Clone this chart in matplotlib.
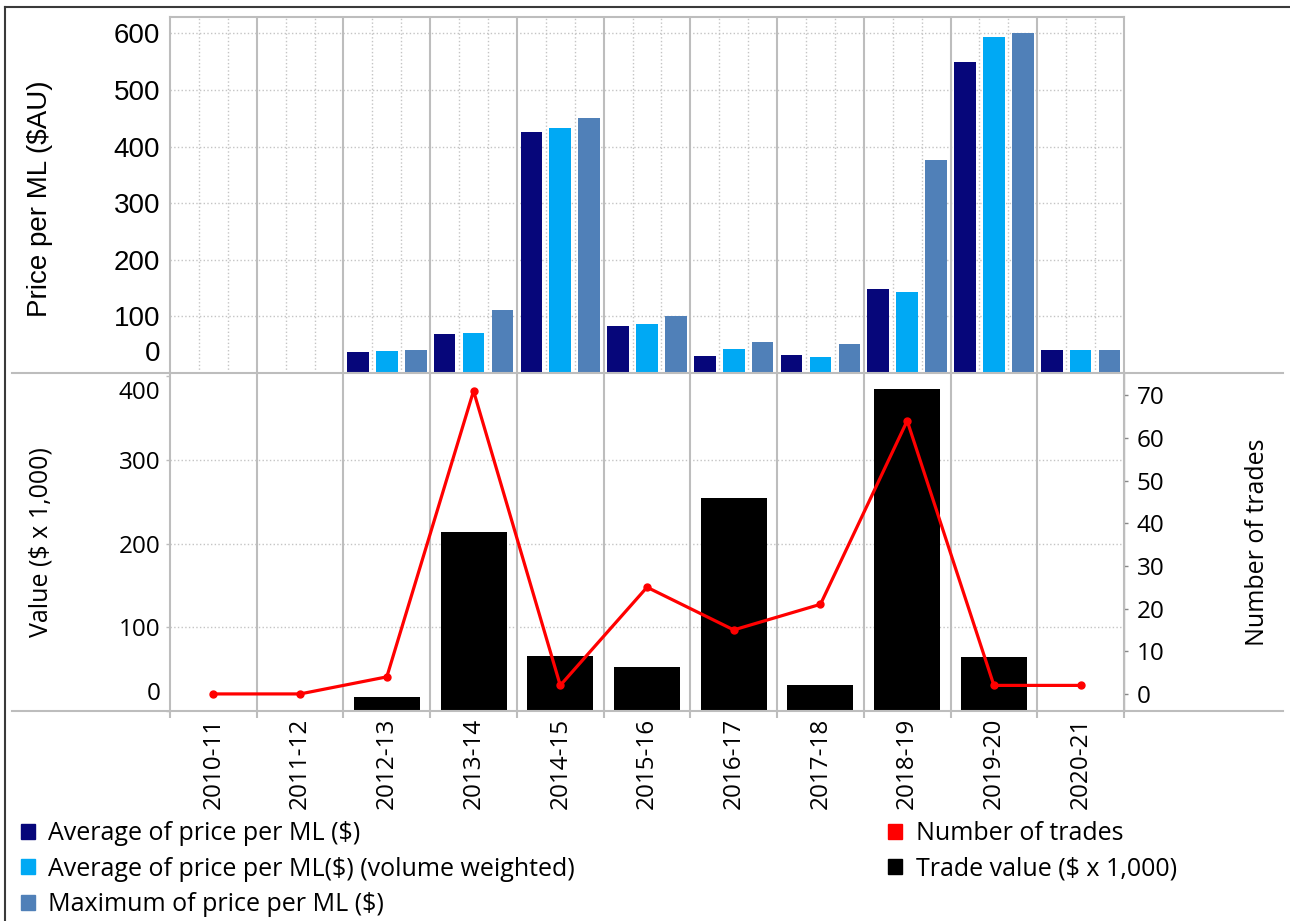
import matplotlib
matplotlib.use("Agg")
import matplotlib.pyplot as plt
from matplotlib.lines import Line2D
from matplotlib.patches import Patch
import numpy as np

# ---------------- data ----------------
years = ["2010-11", "2011-12", "2012-13", "2013-14", "2014-15", "2015-16",
         "2016-17", "2017-18", "2018-19", "2019-20", "2020-21"]
avg_price = [0, 0, 37, 69, 425, 83, 30, 31, 148, 550, 40]
avg_price_vw = [0, 0, 39, 71, 432, 87, 42, 29, 143, 593, 40]
max_price = [0, 0, 41, 111, 451, 100, 55, 52, 376, 600, 40]
trade_value = [0, 0, 17, 214, 66, 53, 255, 31, 385, 64, 0]
num_trades = [0, 0, 4, 71, 2, 25, 15, 21, 64, 2, 2]

top_ticks = [100, 200, 300, 400, 500, 600]
left_ticks = [0, 100, 200, 300, 400]
right_ticks = [0, 10, 20, 30, 40, 50, 60, 70]

C_DARK = "#06067a"
C_LIGHT = "#00a9f4"
C_STEEL = "#5080b8"
C_RED = "#ff0000"
C_GRID = "#c4c4c4"
C_SEP = "#bdbdbd"

ARIAL = ["Liberation Sans", "DejaVu Sans"]
SEGOE = ["Open Sans", "DejaVu Sans"]
FS_TOP = 20
FS_TICK = 17.5
FS_LAB = 18
FS_LEG = 18

W, H = 1290, 921
fig = plt.figure(figsize=(W / 100, H / 100), dpi=100)


def fx(px):
    return px / W


def fy(py):
    return 1 - py / H


L, R = 170, 1124
T1, B1 = 17, 373
T2, B2 = 373, 711

ax_top = fig.add_axes([fx(L), fy(B1), fx(R) - fx(L), fy(T1) - fy(B1)])
ax_bot = fig.add_axes([fx(L), fy(B2), fx(R) - fx(L), fy(T2) - fy(B2)])
ax_r = ax_bot.twinx()

x = np.arange(len(years))

# ---------------- top panel ----------------
bw = 0.25
ax_top.bar(x - 1 / 3, avg_price, bw, color=C_DARK, zorder=3)
ax_top.bar(x, avg_price_vw, bw, color=C_LIGHT, zorder=3)
ax_top.bar(x + 1 / 3, max_price, bw, color=C_STEEL, zorder=3)
ax_top.set_xlim(-0.5, len(years) - 0.5)
ax_top.set_ylim(0, 629)
ax_top.set_xticks([])
ax_top.set_yticks(top_ticks)
ax_top.set_yticklabels([str(v) for v in top_ticks], fontfamily=ARIAL, fontsize=FS_TOP)
ax_top.tick_params(axis="y", length=0, pad=7)
for v in top_ticks:
    ax_top.axhline(v, color=C_GRID, lw=1, ls=":", zorder=1)
for i in range(len(years)):
    ax_top.axvline(i - 1 / 6, color=C_GRID, lw=1, ls=":", zorder=1)
    ax_top.axvline(i + 1 / 6, color=C_GRID, lw=1, ls=":", zorder=1)
for i in range(len(years) - 1):
    ax_top.axvline(i + 0.5, color=C_SEP, lw=1.5, zorder=2)
for s in ["top", "left", "right"]:
    ax_top.spines[s].set_color(C_SEP)
    ax_top.spines[s].set_linewidth(1.5)
ax_top.spines["bottom"].set_visible(False)
ax_top.annotate("0", xy=(0, 0), xycoords=("axes fraction", "data"),
                xytext=(-7, 14), textcoords="offset points",
                ha="right", va="center", fontfamily=ARIAL, fontsize=FS_TOP)
ax_top.set_ylabel("Price per ML ($AU)", fontfamily=ARIAL, fontsize=FS_TOP)
ax_top.yaxis.label.set_va("center")
ax_top.yaxis.set_label_coords((40 - L) / (R - L), 0.49)

# ---------------- bottom panel ----------------
ax_bot.bar(x, trade_value, 0.76, color="black", zorder=3)
ax_bot.set_xlim(-0.5, len(years) - 0.5)
ax_bot.set_ylim(0, 404)
ax_bot.set_yticks(left_ticks)
ax_bot.set_yticklabels(["", "100", "200", "300", ""], fontfamily=SEGOE, fontsize=FS_TICK)
ax_bot.tick_params(axis="y", length=3, width=1, color=C_SEP, pad=4)
ax_bot.annotate("0", xy=(0, 0), xycoords=("axes fraction", "data"),
                xytext=(-7, 12), textcoords="offset points",
                ha="right", va="center", fontfamily=SEGOE, fontsize=FS_TICK)
ax_bot.annotate("400", xy=(0, 400), xycoords=("axes fraction", "data"),
                xytext=(-7, -12), textcoords="offset points",
                ha="right", va="center", fontfamily=SEGOE, fontsize=FS_TICK)
for v in [100, 200, 300]:
    ax_bot.axhline(v, color=C_GRID, lw=1, ls=":", zorder=1)
for i in range(len(years) - 1):
    ax_bot.axvline(i + 0.5, color=C_SEP, lw=1.5, zorder=2)
ax_bot.set_xticks(x)
ax_bot.set_xticklabels(years, rotation=90, fontfamily=SEGOE, fontsize=FS_TICK)
ax_bot.tick_params(axis="x", which="major", length=0, pad=5)
ax_bot.set_xticks(np.arange(-0.5, len(years), 1.0), minor=True)
ax_bot.tick_params(axis="x", which="minor", length=5, width=1.5, color=C_SEP)
for s in ["top", "bottom"]:
    ax_bot.spines[s].set_visible(False)
ax_bot.spines["left"].set_color(C_SEP)
ax_bot.spines["left"].set_linewidth(1.5)
ax_bot.set_ylabel("Value ($ x 1,000)", fontfamily=SEGOE, fontsize=FS_LAB)
ax_bot.yaxis.label.set_va("center")
ax_bot.yaxis.set_label_coords((41 - L) / (R - L), 0.5)

ax_r.plot(x, num_trades, color=C_RED, lw=2.3, marker="o", ms=5, zorder=5)
ax_r.set_ylim(-4, 75.2)
ax_r.set_yticks(right_ticks)
ax_r.set_yticklabels([str(v) for v in right_ticks], fontfamily=SEGOE, fontsize=FS_TICK)
ax_r.tick_params(axis="y", length=3, width=1, color="#888888", pad=6)
for s in ["top", "bottom", "left"]:
    ax_r.spines[s].set_visible(False)
ax_r.spines["right"].set_color(C_SEP)
ax_r.spines["right"].set_linewidth(1.5)
ax_r.set_ylabel("Number of trades", fontfamily=SEGOE, fontsize=FS_LAB)
ax_r.yaxis.label.set_va("center")
ax_r.yaxis.set_label_coords((1258 - L) / (R - L), 0.5)

# ---------------- separators & border ----------------
for yy in (B1, B2):
    fig.add_artist(Line2D([fx(12), fx(1283)], [fy(yy), fy(yy)], color=C_SEP, lw=1.5))
fig.add_artist(Line2D([fx(5), fx(1290)], [fy(7), fy(7)], color="#3a3a3a", lw=1.5))
fig.add_artist(Line2D([fx(5), fx(5)], [fy(7), fy(921)], color="#3a3a3a", lw=1.5))

# ---------------- legends ----------------
leg_kw = dict(loc="upper left", frameon=False, borderpad=0, borderaxespad=0,
              handlelength=0.55, handleheight=0.55, handletextpad=0.55,
              labelspacing=0.42, prop={"family": SEGOE, "size": FS_LEG})
h_left = [Patch(color=C_DARK), Patch(color=C_LIGHT), Patch(color=C_STEEL)]
l_left = ["Average of price per ML ($)",
          "Average of price per ML($) (volume weighted)",
          "Maximum of price per ML ($)"]
fig.legend(h_left, l_left, bbox_to_anchor=(fx(21), fy(821)), **leg_kw)
h_right = [Patch(color=C_RED), Patch(color="black")]
l_right = ["Number of trades", "Trade value ($ x 1,000)"]
fig.legend(h_right, l_right, bbox_to_anchor=(fx(888), fy(821)), **leg_kw)

fig.savefig("out.png", dpi=100)
